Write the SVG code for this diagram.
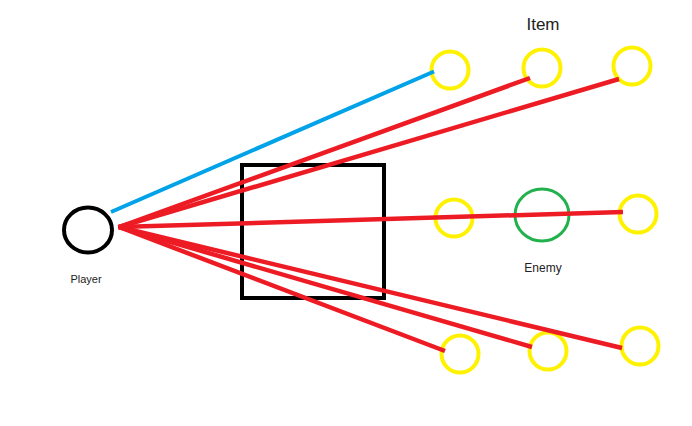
<svg xmlns="http://www.w3.org/2000/svg" width="692" height="426" viewBox="0 0 692 426">
<style>
.item{fill:none;stroke:#FFF200;stroke-width:4}
.red{stroke:#ED1C24;stroke-width:4.5;stroke-linecap:butt}
.lbl{font-family:"Liberation Sans",Arial,sans-serif;fill:#222;text-anchor:middle}
</style>
<rect width="692" height="426" fill="#fff"/>
<g id="obstacle"><rect x="242" y="165" width="142" height="133" fill="none" stroke="#000" stroke-width="4"/></g>
<g id="player">
<ellipse cx="88" cy="230" rx="24" ry="22.5" fill="none" stroke="#000" stroke-width="4"/>
<text class="lbl" x="86" y="283" font-size="11">Player</text>
</g>
<g id="item-label"><text class="lbl" x="543" y="30" font-size="17">Item</text></g>
<g id="item1"><circle class="item" cx="450" cy="70" r="18.5"/></g>
<g id="item2"><circle class="item" cx="542" cy="68" r="18.5"/></g>
<g id="item3"><circle class="item" cx="632" cy="66" r="18.5"/></g>
<g id="item4"><circle class="item" cx="454" cy="218" r="18.5"/></g>
<g id="item5"><circle class="item" cx="638" cy="214" r="18.5"/></g>
<g id="item6"><circle class="item" cx="460" cy="354" r="18.5"/></g>
<g id="item7"><circle class="item" cx="548" cy="351" r="18.5"/></g>
<g id="item8"><circle class="item" cx="640" cy="346" r="18.5"/></g>
<g id="enemy">
<ellipse cx="542" cy="215" rx="27" ry="26" fill="none" stroke="#22B14C" stroke-width="3"/>
<text class="lbl" x="543" y="272" font-size="12">Enemy</text>
</g>
<g id="connectors">
<line x1="111" y1="212" x2="434" y2="71.5" stroke="#00A2E8" stroke-width="4"/>
<line class="red" x1="119" y1="227" x2="530" y2="78"/>
<line class="red" x1="119" y1="227" x2="619" y2="79"/>
<line class="red" x1="118" y1="227" x2="623" y2="212" stroke-width="6"/>
<line class="red" x1="119" y1="227" x2="445" y2="351"/>
<line class="red" x1="119" y1="227" x2="532" y2="347"/>
<line class="red" x1="119" y1="227" x2="622" y2="348"/>
</g>
</svg>
